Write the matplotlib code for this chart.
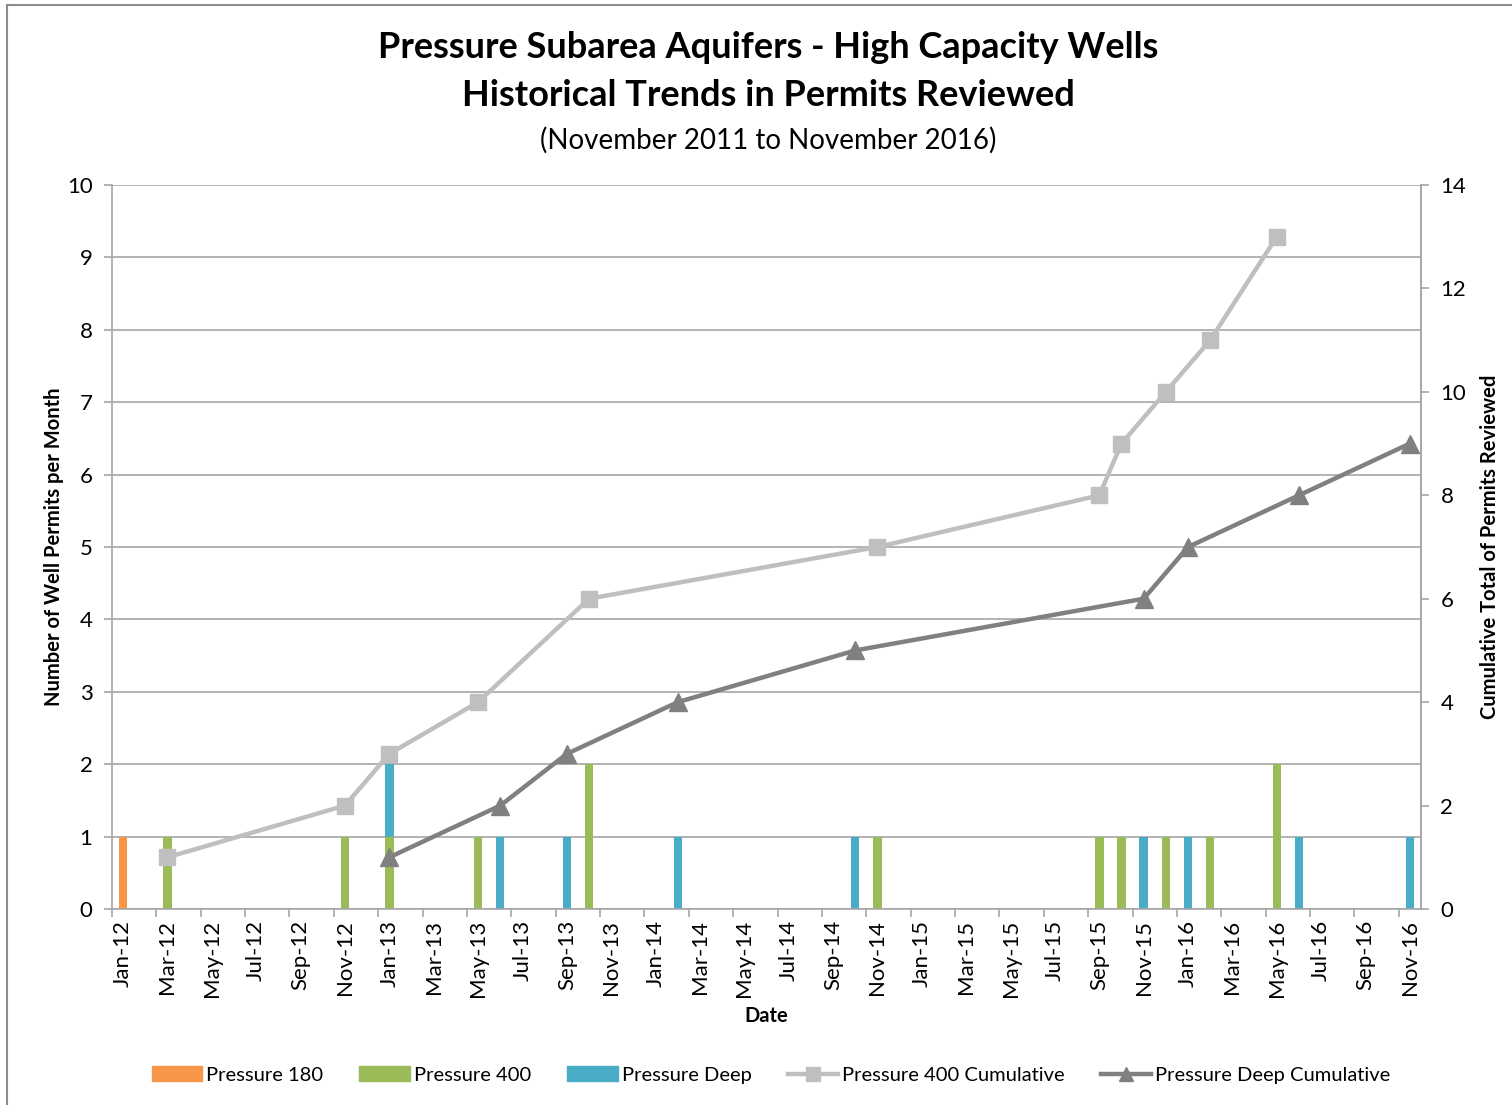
import numpy as np
import matplotlib.pyplot as plt
from matplotlib.patches import Rectangle, Patch
from matplotlib.lines import Line2D

plt.rcParams['font.family'] = ['Lato', 'DejaVu Sans']

# DATA (monthly counts, Jan-12 .. Nov-16)
months = []
names = ["Jan", "Feb", "Mar", "Apr", "May", "Jun", "Jul", "Aug", "Sep", "Oct", "Nov", "Dec"]
for yr in range(12, 17):
    for m in names:
        months.append(f"{m}-{yr}")
months = months[:59]

p180_hits = {"Jan-12": 1}
p400_hits = {"Mar-12": 1, "Nov-12": 1, "Jan-13": 1, "May-13": 1, "Oct-13": 2, "Nov-14": 1,
             "Sep-15": 1, "Oct-15": 1, "Dec-15": 1, "Feb-16": 1, "May-16": 2}
deep_hits = {"Jan-13": 1, "Jun-13": 1, "Sep-13": 1, "Feb-14": 1, "Oct-14": 1, "Nov-15": 1,
             "Jan-16": 1, "Jun-16": 1, "Nov-16": 1}

p180 = np.array([p180_hits.get(m, 0) for m in months], dtype=float)
p400 = np.array([p400_hits.get(m, 0) for m in months], dtype=float)
deep = np.array([deep_hits.get(m, 0) for m in months], dtype=float)

# cumulative only where a permit was reviewed that month
p400_cum = np.where(p400 > 0, np.cumsum(p400), np.nan)
deep_cum = np.where(deep > 0, np.cumsum(deep), np.nan)

c180 = "#F79646"
c400 = "#9BBB59"
cdeep = "#4BACC6"
c400cum = "#BFBFBF"
cdeepcum = "#808080"
grid_c = "#A6A6A6"

fig = plt.figure(figsize=(15.12, 11.05), dpi=100)
fig.patches.append(Rectangle((7 / 1512, -0.1), 1.2, 1.1 - 5 / 1105, transform=fig.transFigure,
                             fill=False, edgecolor="#8C8C8C", linewidth=1.5))

ax = fig.add_axes([112 / 1512, 1 - 909 / 1105, 1309 / 1512, 724 / 1105])
x = np.arange(len(months))
w = 0.38
ax.bar(x, p180, w, color=c180, zorder=2)
ax.bar(x, p400, w, bottom=p180, color=c400, zorder=2)
ax.bar(x, deep, w, bottom=p180 + p400, color=cdeep, zorder=2)

ax.set_xlim(-0.5, len(months) - 0.5)
ax.set_ylim(0, 10)
ax.set_yticks(range(0, 11))
ax.yaxis.grid(True, color=grid_c, linewidth=1.2, zorder=0)
ax.set_axisbelow(True)

ax.set_xticks(x[::2])
ax.set_xticklabels(months[::2], rotation=90, fontsize=16)
ax.set_xticks(np.arange(-0.5, len(months), 2), minor=True)
ax.tick_params(axis="x", which="major", length=0, pad=8)
ax.tick_params(axis="x", which="minor", length=6, color=grid_c, width=1.2)
ax.tick_params(axis="y", labelsize=16, length=6, color=grid_c, width=1.2, pad=8)
ax.spines["top"].set_visible(False)
for s in ["left", "bottom", "right"]:
    ax.spines[s].set_color(grid_c)
    ax.spines[s].set_linewidth(1.2)

ax.set_xlabel("Date", fontsize=14.5, fontweight="bold", labelpad=6)
ax.set_ylabel("Number of Well Permits per Month", fontsize=14.5, fontweight="bold", labelpad=28 - 14 - 14 + 2)

ax2 = ax.twinx()
ax2.set_ylim(0, 14)
ax2.set_yticks(range(0, 15, 2))
ax2.tick_params(axis="y", labelsize=16, length=6, color=grid_c, width=1.2, pad=8)
for s in ["top", "left", "bottom"]:
    ax2.spines[s].set_visible(False)
ax2.spines["right"].set_color(grid_c)
ax2.spines["right"].set_linewidth(1.2)
ax2.set_ylabel("Cumulative Total of Permits Reviewed", fontsize=14.5, fontweight="bold", labelpad=10)

m4 = ~np.isnan(p400_cum)
md = ~np.isnan(deep_cum)
ax2.plot(x[m4], p400_cum[m4], color=c400cum, linewidth=3.2, marker="s", markersize=12, zorder=3)
ax2.plot(x[md], deep_cum[md], color=cdeepcum, linewidth=3.2, marker="^", markersize=13, zorder=4)

fig.text(0.508, 1 - 48 / 1105, "Pressure Subarea Aquifers - High Capacity Wells", ha="center", va="center",
         fontsize=26, fontweight="bold")
fig.text(0.508, 1 - 96 / 1105, "Historical Trends in Permits Reviewed", ha="center", va="center",
         fontsize=26, fontweight="bold")
fig.text(0.508, 1 - 140 / 1105, "(November 2011 to November 2016)", ha="center", va="center", fontsize=20)

handles = [Patch(color=c180), Patch(color=c400), Patch(color=cdeep),
           Line2D([], [], color=c400cum, linewidth=3.2, marker="s", markersize=10),
           Line2D([], [], color=cdeepcum, linewidth=3.2, marker="^", markersize=10)]
labels = ["Pressure 180", "Pressure 400", "Pressure Deep", "Pressure 400 Cumulative", "Pressure Deep Cumulative"]
fig.legend(handles, labels, loc="center", bbox_to_anchor=(0.51, 1 - 1075 / 1105), ncol=5, frameon=False,
           fontsize=14.5, handlelength=2.5, handletextpad=0.2, columnspacing=1.8)

fig.savefig("out.png", dpi=100)
